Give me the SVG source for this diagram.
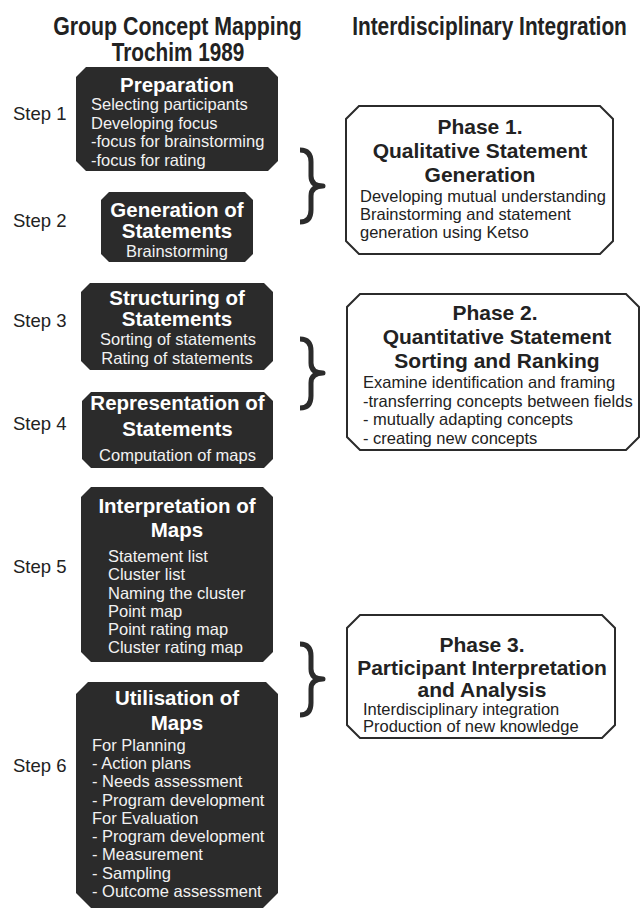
<svg xmlns="http://www.w3.org/2000/svg" width="641" height="910" viewBox="0 0 641 910">
<style>
.hd{font-family:"Liberation Sans",Arial,sans-serif;font-weight:bold;font-size:25px;fill:#222;text-anchor:middle}
.step{font-family:"Liberation Sans",Arial,sans-serif;font-size:18.5px;fill:#222}
.dark{fill:#2b2b2b}
.lite{fill:#fff;stroke:#2b2b2b;stroke-width:2}
.tw{font-family:"Liberation Sans",Arial,sans-serif;font-weight:bold;font-size:20.5px;fill:#fff;text-anchor:middle}
.bw{font-family:"Liberation Sans",Arial,sans-serif;font-size:16.5px;fill:#f2f2f2}
.bwc{text-anchor:middle}
.tb{font-family:"Liberation Sans",Arial,sans-serif;font-weight:bold;font-size:21px;fill:#222;text-anchor:middle}
.bb{font-family:"Liberation Sans",Arial,sans-serif;font-size:16.5px;fill:#222}
.brace{fill:none;stroke:#2b2b2b;stroke-width:5;stroke-linejoin:round}
</style>
<g id="headings">
<text class="hd" transform="translate(177.5,35) scale(0.853,1)">Group Concept Mapping</text>
<text class="hd" transform="translate(178,61) scale(0.83,1)">Trochim 1989</text>
<text class="hd" transform="translate(489.5,35) scale(0.835,1)">Interdisciplinary Integration</text>
</g>
<g id="steps">
<text class="step" x="13" y="120">Step 1</text>
<text class="step" x="13" y="227">Step 2</text>
<text class="step" x="13" y="327">Step 3</text>
<text class="step" x="13" y="430">Step 4</text>
<text class="step" x="13" y="573">Step 5</text>
<text class="step" x="13" y="772">Step 6</text>
</g>
<g id="preparation">
<polygon class="dark" points="86,67 268,67 278,77 278,161 268,171 86,171 76,161 76,77"/>
<text class="tw" x="177" y="92">Preparation</text>
<text class="bw" x="91" y="110">Selecting participants</text>
<text class="bw" x="91" y="128.5">Developing focus</text>
<text class="bw" x="91" y="147">-focus for brainstorming</text>
<text class="bw" x="91" y="165.5">-focus for rating</text>
</g>
<g id="generation">
<polygon class="dark" points="109,192 245,192 253,200 253,254 245,262 109,262 101,254 101,200"/>
<text class="tw" x="177" y="216.5">Generation of</text>
<text class="tw" x="177" y="237.5">Statements</text>
<text class="bw bwc" x="177" y="257">Brainstorming</text>
</g>
<g id="structuring">
<polygon class="dark" points="90,283 264,283 273,292 273,361 264,370 90,370 81,361 81,292"/>
<text class="tw" x="177" y="304.5">Structuring of</text>
<text class="tw" x="177" y="325.5">Statements</text>
<text class="bw bwc" x="178" y="345">Sorting of statements</text>
<text class="bw bwc" x="177" y="363.5">Rating of statements</text>
</g>
<g id="representation">
<polygon class="dark" points="91,392 264,392 273,401 273,459 264,468 91,468 82,459 82,401"/>
<text class="tw" x="177.5" y="410">Representation of</text>
<text class="tw" x="177.5" y="436">Statements</text>
<text class="bw bwc" x="177.5" y="461">Computation of maps</text>
</g>
<g id="interpretation">
<polygon class="dark" points="91,487 263,487 273,497 273,652 263,662 91,662 81,652 81,497"/>
<text class="tw" x="177" y="513">Interpretation of</text>
<text class="tw" x="177" y="537">Maps</text>
<text class="bw" x="108" y="562">Statement list</text>
<text class="bw" x="108" y="580">Cluster list</text>
<text class="bw" x="108" y="598.5">Naming the cluster</text>
<text class="bw" x="108" y="617">Point map</text>
<text class="bw" x="108" y="635">Point rating map</text>
<text class="bw" x="108" y="653">Cluster rating map</text>
</g>
<g id="utilisation">
<polygon class="dark" points="88,682 266,682 278,694 278,893 263,908 91,908 76,893 76,694"/>
<text class="tw" x="177" y="705">Utilisation of</text>
<text class="tw" x="177" y="730">Maps</text>
<text class="bw" x="92" y="751">For Planning</text>
<text class="bw" x="92" y="769">- Action plans</text>
<text class="bw" x="92" y="787">- Needs assessment</text>
<text class="bw" x="92" y="805.5">- Program development</text>
<text class="bw" x="92" y="823.5">For Evaluation</text>
<text class="bw" x="92" y="842">- Program development</text>
<text class="bw" x="92" y="860">- Measurement</text>
<text class="bw" x="92" y="878.5">- Sampling</text>
<text class="bw" x="92" y="897">- Outcome assessment</text>
</g>
<g id="phase1">
<polygon class="lite" points="359,106 600,106 613,119 613,241 600,254 359,254 346,241 346,119"/>
<text class="tb" x="480" y="134">Phase 1.</text>
<text class="tb" x="480" y="158">Qualitative Statement</text>
<text class="tb" x="480" y="182">Generation</text>
<text class="bb" x="360" y="202">Developing mutual understanding</text>
<text class="bb" x="360" y="220">Brainstorming and statement</text>
<text class="bb" x="360" y="238">generation using Ketso</text>
</g>
<g id="phase2">
<polygon class="lite" points="360,294 626,294 639,307 639,437 626,450 360,450 347,437 347,307"/>
<text class="tb" x="495" y="320">Phase 2.</text>
<text class="tb" x="497" y="344">Quantitative Statement</text>
<text class="tb" x="497" y="368">Sorting and Ranking</text>
<text class="bb" x="363" y="388">Examine identification and framing</text>
<text class="bb" x="363" y="406.5">-transferring concepts between fields</text>
<text class="bb" x="363" y="425">- mutually adapting concepts</text>
<text class="bb" x="363" y="443.5">- creating new concepts</text>
</g>
<g id="phase3">
<polygon class="lite" points="360,615 602,615 615,628 615,725 602,738 360,738 347,725 347,628"/>
<text class="tb" x="482" y="652">Phase 3.</text>
<text class="tb" x="482" y="675">Participant Interpretation</text>
<text class="tb" x="482" y="697">and Analysis</text>
<text class="bb" x="363" y="715">Interdisciplinary integration</text>
<text class="bb" x="363" y="732">Production of new knowledge</text>
</g>
<g id="connectors">
<path class="brace" d="M300,150 Q311,150 311,162 L311,176 Q311,186 323,186 Q311,186 311,196 L311,210 Q311,222 300,222"/>
<path class="brace" d="M300,339 Q311,339 311,351 L311,363 Q311,373 323,373 Q311,373 311,383 L311,396 Q311,408 300,408"/>
<path class="brace" d="M300,644 Q311,644 311,656 L311,669 Q311,679 323,679 Q311,679 311,689 L311,703 Q311,715 300,715"/>
</g>
</svg>
